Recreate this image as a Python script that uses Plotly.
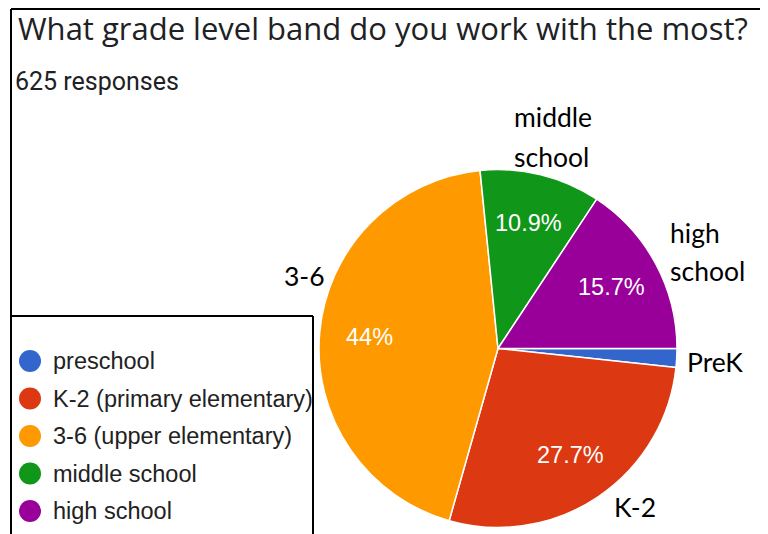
import math
import plotly.graph_objects as go

# ---- data ----
title_text = "What grade level band do you work with the most?"
subtitle_text = "625 responses"
categories = ["preschool", "K-2 (primary elementary)", "3-6 (upper elementary)",
              "middle school", "high school"]
percentages = [1.7, 27.7, 44.0, 10.9, 15.7]
slice_labels = ["", "27.7%", "44%", "10.9%", "15.7%"]
colors = ["#3366cc", "#dc3912", "#ff9900", "#109618", "#990099"]
callout_lines = [["PreK"], ["K-2"], ["3-6"], ["middle", "school"], ["high", "school"]]

# ---- layout helpers (page pixel -> paper; page body has an 8px margin) ----
OFF = 8
W, H = 768 - OFF, 534 - OFF
def px(x):
    return (x - OFF) / W
def py(y):
    return 1 - (y - OFF) / H

cx, cy, r = 498, 348.5, 179
ROTATION = 90

fig = go.Figure()
fig.add_trace(go.Pie(
    labels=categories,
    values=percentages,
    textinfo="none",
    marker=dict(colors=colors, line=dict(color="white", width=1.5)),
    sort=False,
    direction="clockwise",
    rotation=ROTATION,
    hoverinfo="label+percent",
    showlegend=False,
    domain=dict(x=[px(cx - r), px(cx + r)], y=[py(cy + r), py(cy - r)]),
))

shapes = []
annotations = []
line_style = dict(color="black", width=2)
# outer frame
shapes.append(dict(type="line", xref="paper", yref="paper",
                   x0=px(11), y0=py(9), x1=px(762), y1=py(9), line=line_style))
shapes.append(dict(type="line", xref="paper", yref="paper",
                   x0=px(11), y0=py(9), x1=px(11), y1=py(545), line=line_style))
shapes.append(dict(type="line", xref="paper", yref="paper",
                   x0=px(761), y0=py(9), x1=px(761), y1=py(545), line=line_style))
# legend box
shapes.append(dict(type="line", xref="paper", yref="paper",
                   x0=px(10), y0=py(316), x1=px(313), y1=py(316), line=line_style))
shapes.append(dict(type="line", xref="paper", yref="paper",
                   x0=px(313), y0=py(316), x1=px(313), y1=py(545), line=line_style))

# title & subtitle
annotations.append(dict(text=title_text, x=px(16), y=py(28), xref="paper", yref="paper",
                        xanchor="left", yanchor="middle", showarrow=False,
                        font=dict(family="Open Sans", size=31, color="#202124")))
annotations.append(dict(text=subtitle_text, x=px(13), y=py(82), xref="paper", yref="paper",
                        xanchor="left", yanchor="middle", showarrow=False,
                        font=dict(family="Roboto", size=25, color="#202124")))

# percentage labels inside slices, along each slice's bisector
total = sum(percentages)
start = ROTATION
for val, lab in zip(percentages, slice_labels):
    span = 360 * val / total
    mid = math.radians(start + span / 2)
    start += span
    if not lab:
        continue
    rr = 0.72 * r
    tx = cx + rr * math.sin(mid)
    ty = cy - rr * math.cos(mid)
    annotations.append(dict(text=lab, x=px(tx), y=py(ty), xref="paper", yref="paper",
                            xanchor="center", yanchor="middle", showarrow=False,
                            font=dict(family="Arial, Liberation Sans, sans-serif",
                                      size=23.5, color="white")))

# legend (circles + text)
for i, (cat, col) in enumerate(zip(categories, colors)):
    yc = 361 + 37.5 * i
    shapes.append(dict(type="circle", xref="paper", yref="paper",
                       x0=px(19), x1=px(41), y0=py(yc - 11), y1=py(yc + 11),
                       fillcolor=col, line=dict(width=0)))
    annotations.append(dict(text=cat, x=px(51), y=py(yc), xref="paper", yref="paper",
                            xanchor="left", yanchor="middle", showarrow=False,
                            font=dict(family="Arial, Liberation Sans, sans-serif", size=23.5,
                                      color="#222222")))

# callout labels
callout_pos = [(685, [362]), (612, [507]), (282, [276]), (512, [117, 157]), (668, [233, 271])]
for lines, (x, ys) in zip(callout_lines, callout_pos):
    for t, y in zip(lines, ys):
        annotations.append(dict(text=t, x=px(x), y=py(y), xref="paper", yref="paper",
                                xanchor="left", yanchor="middle", showarrow=False,
                                font=dict(family="Lato", size=26.5, color="black")))

fig.update_layout(
    width=W, height=H,
    margin=dict(l=0, r=0, t=0, b=0),
    paper_bgcolor="white", plot_bgcolor="white",
    shapes=shapes, annotations=annotations,
)
fig.write_html("out.html")
